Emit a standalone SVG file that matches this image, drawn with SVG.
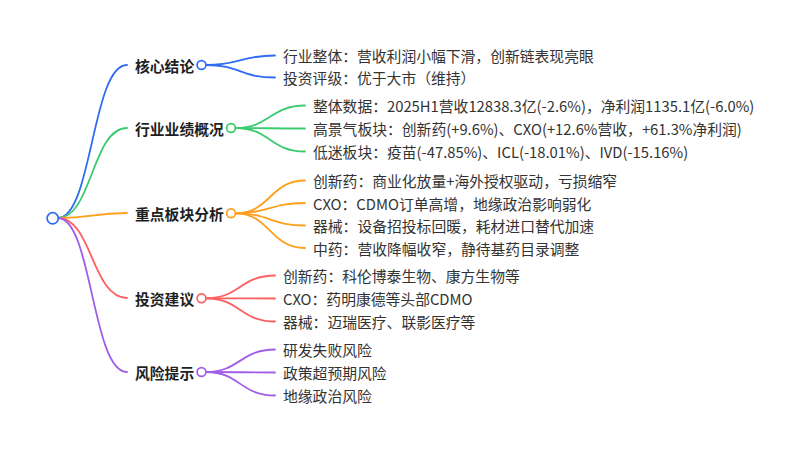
<svg xmlns="http://www.w3.org/2000/svg" width="800" height="449" viewBox="0 0 800 449">
<style>
text{font-family:"Noto Sans CJK SC","Noto Sans",sans-serif;font-size:14.8px;dominant-baseline:central;fill:#333}
.l1{font-weight:bold;fill:#1f1f1f}
path{fill:none;stroke-width:1.8;stroke-linecap:round}
circle{fill:#fff;stroke-width:1.7}
.b{stroke:#2f6cf2}.g{stroke:#3acb6e}.o{stroke:#ff9f1c}.r{stroke:#ff5f5f}.p{stroke:#a05ee6}
</style>
<rect width="800" height="449" fill="#fff"/>
<g id="connectors">
<path class="b" d="M58,218 C92,218 92,65 127,65"/>
<path class="g" d="M58,218 C92,218 92,128 127,128"/>
<path class="o" d="M58,218 C92,218 92,213 127,213"/>
<path class="r" d="M58,218 C92,218 92,298 127,298"/>
<path class="p" d="M58,218 C92,218 92,372 127,372"/>
<path class="b" d="M206,65 C240,65 240,55.5 275,55.5"/>
<path class="b" d="M206,65 C240,65 240,77.5 275,77.5"/>
<path class="g" d="M235.5,128 C270,128 270,105.5 305,105.5"/>
<path class="g" d="M235.5,128 C270,128 270,128.5 305,128.5"/>
<path class="g" d="M235.5,128 C270,128 270,151.5 305,151.5"/>
<path class="o" d="M235.5,213.3 C270,213.3 270,180.5 305,180.5"/>
<path class="o" d="M235.5,213.3 C270,213.3 270,203 305,203"/>
<path class="o" d="M235.5,213.3 C270,213.3 270,225.5 305,225.5"/>
<path class="o" d="M235.5,213.3 C270,213.3 270,248 305,248"/>
<path class="r" d="M206,298.3 C240,298.3 240,275.5 275,275.5"/>
<path class="r" d="M206,298.3 C240,298.3 240,298.5 275,298.5"/>
<path class="r" d="M206,298.3 C240,298.3 240,321.5 275,321.5"/>
<path class="p" d="M206,372 C240,372 240,349.5 275,349.5"/>
<path class="p" d="M206,372 C240,372 240,372.5 275,372.5"/>
<path class="p" d="M206,372 C240,372 240,395.5 275,395.5"/>
</g>
<g id="root"><circle class="b" cx="52.7" cy="218.3" r="5.6" stroke-width="2"/></g>
<g id="n1"><text class="l1" x="135" y="65">核心结论</text><circle class="b" cx="201.5" cy="65" r="4.4"/></g>
<g id="n1a"><text x="283" y="55.5">行业整体：营收利润小幅下滑，创新链表现亮眼</text></g>
<g id="n1b"><text x="283" y="77.5">投资评级：优于大市（维持）</text></g>
<g id="n2"><text class="l1" x="135" y="128">行业业绩概况</text><circle class="g" cx="231" cy="128" r="4.4"/></g>
<g id="n2a"><text x="313" y="105.5">整体数据：2025H1营收12838.3亿(-2.6%)，净利润1135.1亿(-6.0%)</text></g>
<g id="n2b"><text x="313" y="128.5">高景气板块：创新药(+9.6%)、CXO(+12.6%营收，+61.3%净利润)</text></g>
<g id="n2c"><text x="313" y="151.5">低迷板块：疫苗(-47.85%)、ICL(-18.01%)、IVD(-15.16%)</text></g>
<g id="n3"><text class="l1" x="135" y="213.3">重点板块分析</text><circle class="o" cx="231" cy="213.3" r="4.4"/></g>
<g id="n3a"><text x="313" y="180.5">创新药：商业化放量+海外授权驱动，亏损缩窄</text></g>
<g id="n3b"><text x="313" y="203">CXO：CDMO订单高增，地缘政治影响弱化</text></g>
<g id="n3c"><text x="313" y="225.5">器械：设备招投标回暖，耗材进口替代加速</text></g>
<g id="n3d"><text x="313" y="248">中药：营收降幅收窄，静待基药目录调整</text></g>
<g id="n4"><text class="l1" x="135" y="298.3">投资建议</text><circle class="r" cx="201.5" cy="298.3" r="4.4"/></g>
<g id="n4a"><text x="283" y="275.5">创新药：科伦博泰生物、康方生物等</text></g>
<g id="n4b"><text x="283" y="298.5">CXO：药明康德等头部CDMO</text></g>
<g id="n4c"><text x="283" y="321.5">器械：迈瑞医疗、联影医疗等</text></g>
<g id="n5"><text class="l1" x="135" y="372">风险提示</text><circle class="p" cx="201.5" cy="372" r="4.4"/></g>
<g id="n5a"><text x="283" y="349.5">研发失败风险</text></g>
<g id="n5b"><text x="283" y="372.5">政策超预期风险</text></g>
<g id="n5c"><text x="283" y="395.5">地缘政治风险</text></g>
</svg>
